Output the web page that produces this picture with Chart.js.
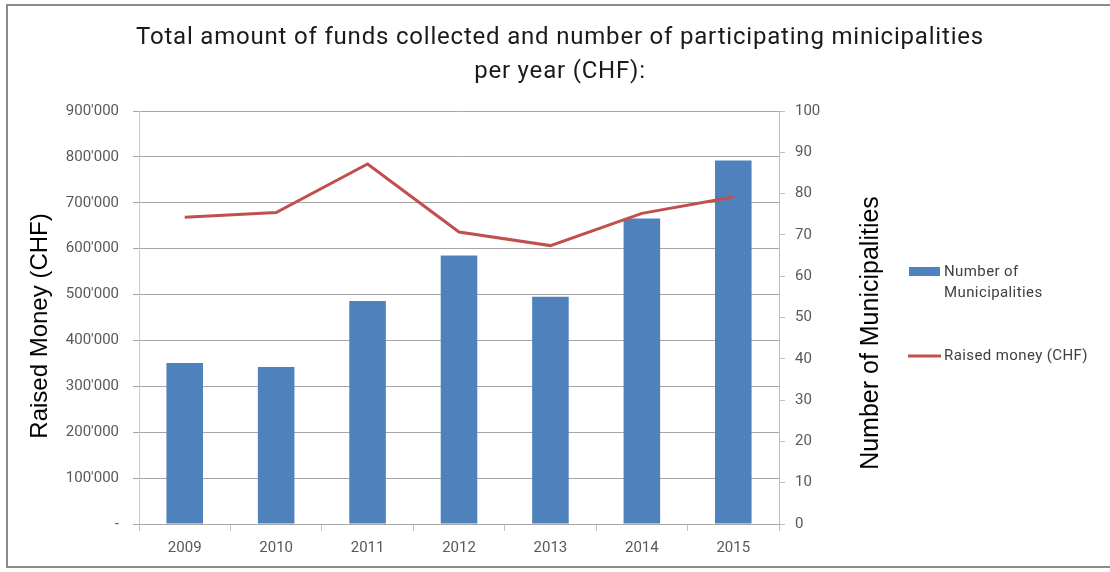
<!DOCTYPE html>
<html>
<head>
<meta charset="utf-8">
<script src="https://cdn.jsdelivr.net/npm/chart.js@4.4.0/dist/chart.umd.min.js"></script>
<style>
  html, body { margin: 0; padding: 0; background: #ffffff; }
  #wrap { width: 1110px; height: 572px; position: relative; }
</style>
</head>
<body>
<div id="wrap"><canvas id="c" width="1110" height="572"></canvas></div>
<script>
// ---- data ----
const years = ['2009', '2010', '2011', '2012', '2013', '2014', '2015'];
const municipalities = [39, 38, 54, 65, 55, 74, 88];
const raisedMoney = [668400, 678600, 784500, 636300, 606700, 677000, 712600];
const titleLines = ['Total amount of funds collected and number of participating minicipalities', 'per year (CHF):'];
const leftAxisTitle = 'Raised Money (CHF)';
const rightAxisTitle = 'Number of Municipalities';
const barLabelLines = ['Number of', 'Municipalities'];
const lineLabel = 'Raised money (CHF)';

const BAR_COLOR = '#4f81bd';
const LINE_COLOR = '#c0504d';

function fmtMoney(v) {
  if (v === 0) return '-';
  return String(v).replace(/\B(?=(\d{3})+(?!\d))/g, "'");
}

const decorPlugin = {
  id: 'decor',
  beforeDraw(chart) {
    const ctx = chart.ctx;
    ctx.save();
    ctx.fillStyle = '#ffffff';
    ctx.fillRect(0, 0, chart.width, chart.height);
    ctx.restore();
  },
  afterDraw(chart) {
    const ctx = chart.ctx;
    ctx.save();
    // outer frame
    ctx.strokeStyle = '#8c8c8c';
    ctx.lineWidth = 2;
    ctx.beginPath();
    ctx.moveTo(1115, 5);
    ctx.lineTo(7, 5);
    ctx.lineTo(7, 567);
    ctx.lineTo(1115, 567);
    ctx.stroke();

    // title
    ctx.fillStyle = '#1a1a1a';
    ctx.font = '24px Roboto';
    ctx.textAlign = 'center';
    ctx.textBaseline = 'middle';
    if ('letterSpacing' in ctx) ctx.letterSpacing = '0.8px';
    ctx.fillText(titleLines[0], 560, 38);
    ctx.fillText(titleLines[1], 560, 72);
    if ('letterSpacing' in ctx) ctx.letterSpacing = '0px';

    // axis titles
    ctx.fillStyle = '#000000';
    ctx.font = '24px "Liberation Sans"';
    ctx.save();
    ctx.translate(40, 326);
    ctx.rotate(-Math.PI / 2);
    ctx.fillText(leftAxisTitle, 0, 0);
    ctx.restore();
    ctx.save();
    ctx.font = '25px "Liberation Sans"';
    ctx.translate(871, 333);
    ctx.rotate(-Math.PI / 2);
    ctx.fillText(rightAxisTitle, 0, 0);
    ctx.restore();

    // legend
    ctx.fillStyle = BAR_COLOR;
    ctx.fillRect(909, 267, 31, 9);
    ctx.strokeStyle = LINE_COLOR;
    ctx.lineWidth = 3;
    ctx.beginPath();
    ctx.moveTo(908, 356);
    ctx.lineTo(941, 356);
    ctx.stroke();
    ctx.fillStyle = '#404040';
    ctx.font = '15px Roboto';
    ctx.textAlign = 'left';
    if ('letterSpacing' in ctx) ctx.letterSpacing = '0.4px';
    ctx.fillText(barLabelLines[0], 944, 272);
    ctx.fillText(barLabelLines[1], 944, 293);
    ctx.fillText(lineLabel, 944, 356);
    if ('letterSpacing' in ctx) ctx.letterSpacing = '0px';
    ctx.restore();
  }
};

new Chart(document.getElementById('c'), {
  data: {
    labels: years,
    datasets: [
      {
        type: 'line',
        label: lineLabel,
        data: raisedMoney,
        yAxisID: 'y',
        borderColor: LINE_COLOR,
        backgroundColor: LINE_COLOR,
        borderWidth: 3,
        pointRadius: 0,
        tension: 0,
        order: 0
      },
      {
        type: 'bar',
        label: barLabelLines.join(' '),
        data: municipalities,
        yAxisID: 'y2',
        backgroundColor: BAR_COLOR,
        borderWidth: 0,
        barPercentage: 0.4,
        categoryPercentage: 1.0,
        order: 1
      }
    ]
  },
  options: {
    responsive: false,
    animation: false,
    devicePixelRatio: 1,
    layout: { padding: { top: 111, left: 0, right: 0, bottom: 0 } },
    plugins: {
      legend: { display: false },
      title: { display: false },
      tooltip: { enabled: false }
    },
    scales: {
      x: {
        type: 'category',
        offset: true,
        grid: { drawOnChartArea: false, drawTicks: true, tickLength: 7, color: '#bfbfbf', offset: true },
        border: { color: '#a6a6a6' },
        ticks: { color: '#595959', font: { family: 'Roboto', size: 15 }, padding: 8, maxRotation: 0 },
        afterFit(s) { s.height = 48; }
      },
      y: {
        position: 'left',
        min: 0,
        max: 900000,
        ticks: { stepSize: 100000, color: '#595959', font: { family: 'Roboto', size: 15 }, padding: 14, callback: (v) => fmtMoney(v) },
        grid: { color: '#a6a6a6', tickLength: 6 },
        border: { color: '#c8c8c8' },
        afterFit(s) { s.width = 139; }
      },
      y2: {
        position: 'right',
        min: 0,
        max: 100,
        ticks: { stepSize: 10, color: '#595959', font: { family: 'Roboto', size: 15 }, padding: 10 },
        grid: { drawOnChartArea: false, color: '#bfbfbf', tickLength: 6 },
        border: { color: '#bfbfbf' },
        afterFit(s) { s.width = 331; }
      }
    }
  },
  plugins: [decorPlugin]
});
</script>
</body>
</html>
